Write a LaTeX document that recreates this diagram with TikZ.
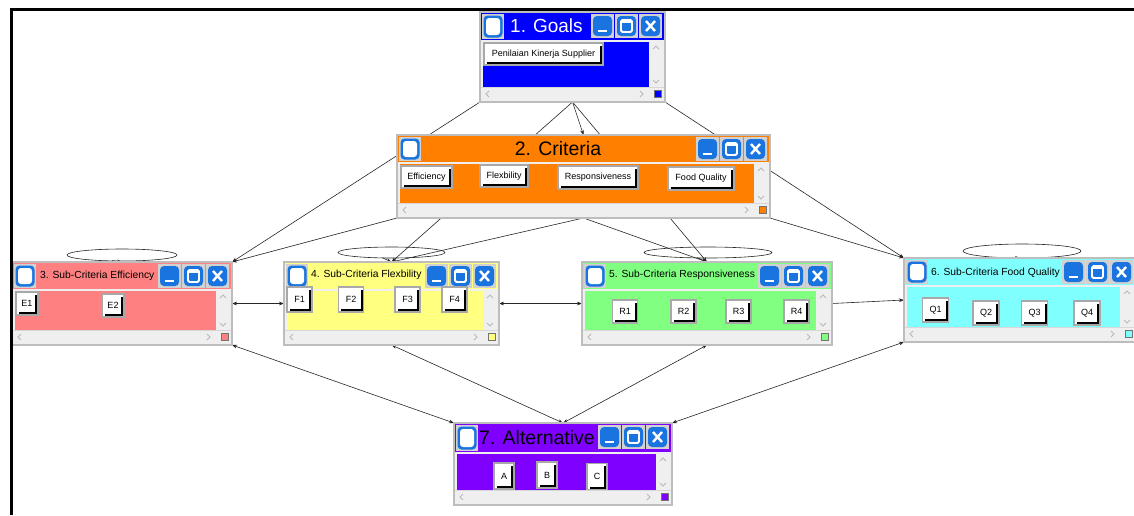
\documentclass[tikz,border=0pt]{standalone}
\usepackage{fontspec}
\setmainfont{Liberation Sans}
\usetikzlibrary{arrows.meta}
\definecolor{cgoal}{HTML}{0000FF}
\definecolor{ccrit}{HTML}{FF8000}
\definecolor{ceff}{HTML}{FF8080}
\definecolor{cflex}{HTML}{FFFF80}
\definecolor{cresp}{HTML}{80FF80}
\definecolor{cfq}{HTML}{80FFFF}
\definecolor{calt}{HTML}{8000FF}
\definecolor{bblue}{HTML}{1A74E0}
\definecolor{framec}{HTML}{BDBDBD}
\definecolor{barc}{HTML}{EFEFEF}
\definecolor{chevc}{HTML}{B8B8B8}
\definecolor{btnframe}{HTML}{A8A8A8}
\tikzset{
  conn/.style={draw=black!85, line width=0.6pt},
  tip/.style={-{Stealth[length=5pt,width=3.6pt]}},
  twotip/.style={{Stealth[length=5pt,width=3.6pt]}-{Stealth[length=5pt,width=3.6pt]}},
  winbox/.style={inner sep=0pt, outer sep=0pt, anchor=north west},
  chev/.style={draw=chevc, line width=0.8pt},
  cbtn/.style={rectangle, fill=white, draw=btnframe, line width=1.6pt, inner sep=0pt,
    font=\fontsize{9}{10}\selectfont},
  bshadow/.style={draw=black, line width=1.8pt},
  wtitle/.style={anchor=west, inner sep=0pt},
}
\newcommand\btn[6]{%
  \node[cbtn, minimum width=#4pt, minimum height=#5pt] (#1) at (#2,#3) {#6};
  \draw[bshadow] ({#2-#4/2+2.6},{#3+#5/2-1.8}) -- ({#2+#4/2-1.8},{#3+#5/2-1.8}) -- ({#2+#4/2-1.8},{#3-#5/2+2.6});}
\newcommand\cellbg[2]{%
  \fill[framec!70] (#1,#2) rectangle ({#1+23},{#2+24});
  \fill[bblue, rounded corners=4pt] ({#1+2},{#2+2}) rectangle ({#1+21},{#2+22});}
\newcommand\bmin[2]{\cellbg{#1}{#2}%
  \draw[white,line width=2pt] ({#1+7},{#2+17}) -- ({#1+16},{#2+17});}
\newcommand\bmax[2]{\cellbg{#1}{#2}%
  \draw[white,line width=1.8pt,rounded corners=1.5pt] ({#1+6},{#2+6}) rectangle ({#1+17},{#2+18});
  \draw[white,line width=1.2pt] ({#1+6},{#2+8}) -- ({#1+17},{#2+8});}
\newcommand\bclose[2]{\cellbg{#1}{#2}%
  \draw[white,line width=2.4pt] ({#1+7},{#2+7}) -- ({#1+16},{#2+17}) ({#1+16},{#2+7}) -- ({#1+7},{#2+17});}
\newcommand\bicon[3]{%
  \fill[framec!70] (#1,#2) rectangle ({#1+22},{#2+#3});
  \fill[bblue, rounded corners=4pt] ({#1+1.5},{#2+1.5}) rectangle ({#1+20.5},{#2+#3-1.5});
  \fill[white, rounded corners=3pt] ({#1+4},{#2+4}) rectangle ({#1+18},{#2+#3-4});}
\newcommand\wdraw[6]{%
  \filldraw[fill=barc, draw=framec, line width=1.2pt] (#1,#2) rectangle (#3,#4);
  \fill[#5] ({#1+1},{#2+1}) rectangle ({#3-1},{#2+#6});
  \fill[#5] ({#1+3},{#2+#6+2}) rectangle ({#3-16},{#4-15});
  \draw[framec!60, line width=0.8pt] ({#1+1},{#4-15}) -- ({#3-1},{#4-15});
  \draw[chev] ({#3-12},{#2+#6+9}) -- ({#3-9},{#2+#6+6}) -- ({#3-6},{#2+#6+9});
  \draw[chev] ({#3-12},{#4-22}) -- ({#3-9},{#4-19}) -- ({#3-6},{#4-22});
  \draw[chev] ({#1+9},{#4-11}) -- ({#1+6},{#4-8}) -- ({#1+9},{#4-5});
  \draw[chev] ({#3-25},{#4-11}) -- ({#3-22},{#4-8}) -- ({#3-25},{#4-5});
  \filldraw[fill=#5, draw=black!55, line width=0.6pt] ({#3-11},{#4-12}) rectangle ({#3-4},{#4-5});
  \bicon{#1+2}{#2+2}{#6-3}
  \bmin{#3-74}{#2+2}\bmax{#3-50}{#2+2}\bclose{#3-26}{#2+2}}
\begin{document}
\begin{tikzpicture}[x=1pt,y=-1pt]
\fill[white] (0,0) rectangle (1134,515);
\useasboundingbox (0,0) rectangle (1134,515);
% window placeholders
\node[winbox, minimum width=185pt, minimum height=90pt] (goals) at (480,12) {};
\node[winbox, minimum width=373pt, minimum height=83pt] (crit) at (397,135) {};
\node[winbox, minimum width=220pt, minimum height=83pt] (eff) at (12,262) {};
\node[winbox, minimum width=215pt, minimum height=83pt] (flex) at (284,262) {};
\node[winbox, minimum width=250pt, minimum height=83pt] (resp) at (582,262) {};
\node[winbox, minimum width=232pt, minimum height=84pt] (fq) at (904,258) {};
\node[winbox, minimum width=218pt, minimum height=82pt] (alt) at (454,423) {};
% connectors
\draw[conn,tip] (goals.south west) -- (eff.north east);
\draw[conn,tip] (goals.south) -- (crit.north);
\draw[conn,tip] (goals.south) -- (flex.north);
\draw[conn,tip] (goals.south) -- (resp.north);
\draw[conn,tip] (goals.south east) -- (fq.north west);
\draw[conn,tip] (crit.south west) -- (eff.north east);
\draw[conn,tip] (crit.south) -- (flex.north);
\draw[conn,tip] (crit.south) -- (resp.north);
\draw[conn,tip] (crit.south east) -- (fq.north west);
\draw[conn,twotip] (eff.east) -- (flex.west);
\draw[conn,twotip] (flex.east) -- (resp.west);
\draw[conn,tip] (resp.east) -- (fq.west);
\draw[conn,twotip] (eff.south east) -- (alt.north west);
\draw[conn,twotip] (flex.south) -- (alt.north);
\draw[conn,twotip] (resp.south) -- (alt.north);
\draw[conn,twotip] (fq.south west) -- (alt.north east);
% self loops
\draw[conn] (122,255) ellipse [x radius=55, y radius=6];
\coordinate (le) at (112,260.6);
\draw[conn,tip] (le) -- (eff.north);
\draw[conn] (391.5,252.5) ellipse [x radius=53.5, y radius=5.5];
\coordinate (lf) at (382,257.6);
\draw[conn,tip] (lf) -- (flex.north);
\draw[conn] (708,252.5) ellipse [x radius=64, y radius=5.5];
\coordinate (lr) at (697,257.6);
\draw[conn,tip] (lr) -- (resp.north);
\draw[conn] (1022,251) ellipse [x radius=59, y radius=7];
\coordinate (lq) at (1012,257.6);
\draw[conn,tip] (lq) -- (fq.north);
% windows
\wdraw{480}{12}{665}{102}{cgoal}{28}
\node[wtitle, text=white, font=\fontsize{19}{22}\selectfont] (tgoals) at (510,26) {1. Goals};
\btn{bg1}{543.5}{54}{119}{22}{Penilaian Kinerja Supplier}

\wdraw{397}{135}{770}{218}{ccrit}{27}
\node[anchor=center, inner sep=0pt, font=\fontsize{19.5}{22}\selectfont] (tcrit) at (558,149) {2. Criteria};
\btn{bc1}{426.5}{177}{51}{22}{Efficiency}
\btn{bc2}{504}{176}{48}{22}{Flexbility}
\btn{bc3}{598}{177.5}{80}{23}{Responsiveness}
\btn{bc4}{701}{178.5}{66}{23}{Food Quality}

\wdraw{12}{262}{232}{345}{ceff}{27}
\node[wtitle, font=\fontsize{10.3}{12}\selectfont] (teff) at (40,275.5) {3. Sub-Criteria Efficiency};
\btn{be1}{27}{303.5}{22}{23}{E1}
\btn{be2}{113}{305.5}{22}{23}{E2}

\wdraw{284}{262}{499}{345}{cflex}{27}
\node[wtitle, font=\fontsize{10.3}{12}\selectfont] (tflex) at (311,275) {4. Sub-Criteria Flexbility};
\btn{bf1}{299.5}{299.5}{25}{25}{F1}
\btn{bf2}{351}{299.5}{25}{25}{F2}
\btn{bf3}{407.5}{299.5}{25}{25}{F3}
\btn{bf4}{454.5}{299.5}{25}{25}{F4}

\wdraw{582}{262}{832}{345}{cresp}{27}
\node[wtitle, font=\fontsize{10.3}{12}\selectfont] (tresp) at (609,274.5) {5. Sub-Criteria Responsiveness};
\btn{br1}{625}{311.5}{25}{23}{R1}
\btn{br2}{683.5}{311.5}{25}{23}{R2}
\btn{br3}{738.5}{311.5}{25}{23}{R3}
\btn{br4}{796.5}{311.5}{25}{23}{R4}

\wdraw{904}{258}{1136}{342}{cfq}{27}
\node[wtitle, font=\fontsize{10.3}{12}\selectfont] (tfq) at (931,272.5) {6. Sub-Criteria Food Quality};
\btn{bq1}{935.5}{310}{26}{24}{Q1}
\btn{bq2}{986}{313}{26}{24}{Q2}
\btn{bq3}{1034.5}{313}{26}{24}{Q3}
\btn{bq4}{1087}{313}{26}{24}{Q4}

\wdraw{454}{423}{672}{505}{calt}{29}
\node[wtitle, font=\fontsize{19.5}{22}\selectfont] (talt) at (479,438) {7. Alternative};
\btn{ba}{504}{476}{20}{26}{A}
\btn{bb}{547}{475}{20}{26}{B}
\btn{bcc}{597}{476.5}{20}{26}{C}
% outer frame
\draw[black, line width=3pt] (11,515) -- (11,9) -- (1134,9);
\end{tikzpicture}
\end{document}
